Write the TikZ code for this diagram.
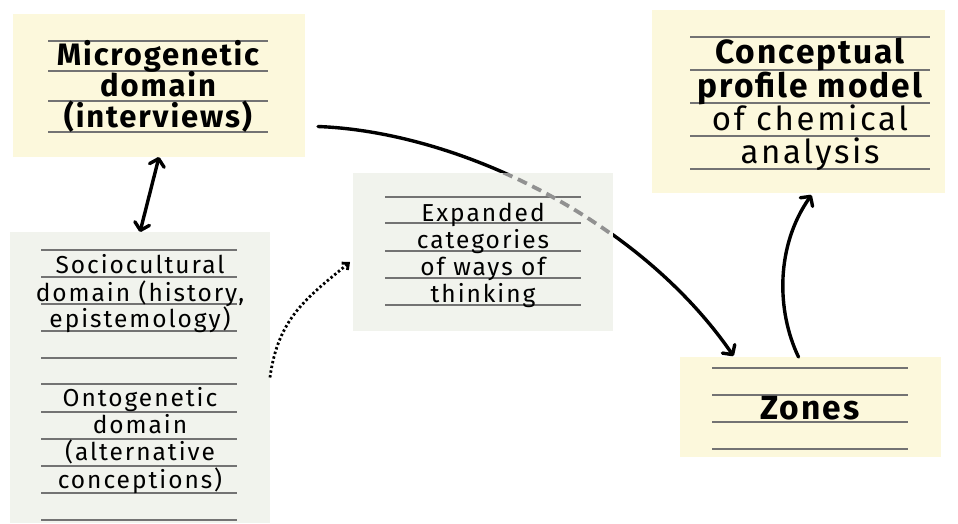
\documentclass[tikz,border=0pt]{standalone}
\usepackage{fontspec}
\setmainfont{Fira Sans}
\newfontfamily\handn[LetterSpace=8]{Fira Sans}
\newfontfamily\handb[LetterSpace=6]{Fira Sans Bold}
\usetikzlibrary{arrows.meta,calc}
\definecolor{yfill}{RGB}{252,248,220}
\definecolor{gfill}{RGB}{241,243,237}
\definecolor{rule}{RGB}{115,115,115}
\definecolor{dashgray}{RGB}{145,145,145}
\pgfdeclarelayer{bg}
\pgfsetlayers{bg,main}
\tikzset{
  box/.style={rectangle, draw=none, inner sep=0pt, outer sep=0pt},
  ybox/.style={box, fill=yfill},
  gbox/.style={box, fill=gfill},
  ruled/.style={draw=rule, line width=1.1pt},
  tn/.style={anchor=base, inner sep=0pt, font=\handn\fontsize{24.5}{24.5}\selectfont},
  tnl/.style={anchor=base, inner sep=0pt, font=\handn\fontsize{33}{33}\selectfont},
  tb/.style={anchor=base, inner sep=0pt, font=\handb\fontsize{31}{31}\selectfont},
  tbl/.style={anchor=base, inner sep=0pt, font=\handb\fontsize{33.5}{33.5}\selectfont},
  tip/.tip={Straight Barb[length=7pt,width=15pt,line cap=round,line join=round]},
  conn/.style={line width=3.4pt, line cap=round, -tip},
}
\begin{document}
\begin{tikzpicture}[x=1pt,y=-1pt]
\useasboundingbox (0,0) rectangle (958,523);
% boxes
\node[ybox, minimum width=292pt, minimum height=143pt] (m) at (159,85.5) {};
\node[gbox, minimum width=260pt, minimum height=291pt] (s) at (140,377.5) {};
\node[gbox, minimum width=260pt, minimum height=158pt] (e) at (483,252) {};
\node[ybox, minimum width=293pt, minimum height=183pt] (c) at (798.5,101.5) {};
\node[ybox, minimum width=261pt, minimum height=100pt] (z) at (810.5,407) {};
% ruled lines
\foreach \y in {41,71,101,132} \draw[ruled] (48,\y) -- (268,\y);
\foreach \y in {250,277,304,331,358,384,412,439,466,493,520} \draw[ruled] (41,\y) -- (237,\y);
\foreach \y in {197,223,251,278,305} \draw[ruled] (385,\y) -- (581,\y);
\foreach \y in {37,70,103,136,169} \draw[ruled] (690,\y) -- (930,\y);
\foreach \y in {368,395,422,449} \draw[ruled] (712,\y) -- (908,\y);
% texts
\node[tb] (m1) at (158,65) {Microgenetic};
\node[tb] (m2) at (158,96) {domain};
\node[tb] (m3) at (158,127) {(interviews)};
\node[tn] (s1) at (140,273) {Sociocultural};
\node[tn] (s2) at (140,301) {domain (history,};
\node[tn] (s3) at (140,327) {epistemology)};
\node[tn] (s4) at (140,406) {Ontogenetic};
\node[tn] (s5) at (140,433) {domain};
\node[tn] (s6) at (140,460) {(alternative};
\node[tn] (s7) at (140,488) {conceptions)};
\node[tn] (e1) at (483,221) {Expanded};
\node[tn] (e2) at (483,248) {categories};
\node[tn] (e3) at (483,275) {of ways of};
\node[tn] (e4) at (483,302) {thinking};
\node[tbl] (c1) at (810,63) {Conceptual};
\node[tbl] (c2) at (810,97) {profile model};
\node[tnl] (c3) at (810,130) {of chemical};
\node[tnl] (c4) at (810,163) {analysis};
\node[tbl] (z1) at (810,419) {Zones};
% connectors
\draw[line width=3.4pt, line cap=round, tip-tip] (m.south) -- (s.north);
\draw[line width=2.8pt, dash pattern=on 2.4pt off 2.4pt, -{Straight Barb[length=5pt,width=9pt,line width=2.8pt]}]
  (s.east) .. controls ($(s.east)+(8,-60)$) and ($(e.west)+(-45,45)$) .. ($(e.west)+(-3,10)$);
\coordinate (bstart) at ($(m.east)+(13,41)$);
\coordinate (bend) at ($(z.north)+(-77,-1)$);
\begin{pgfonlayer}{bg}
\draw[conn] (bstart) .. controls (460,132) and (640,220) .. (bend);
\end{pgfonlayer}
\begin{scope}
\clip (e.north west) rectangle (e.south east);
\draw[dashgray, line width=3.8pt, dash pattern=on 10pt off 6pt] (bstart) .. controls (460,132) and (640,220) .. (bend);
\end{scope}
\draw[conn] ($(z.north)+(-12,0)$) .. controls (776,310) and (776,245) .. ($(c.south)+(13,2)$);
\end{tikzpicture}
\end{document}
